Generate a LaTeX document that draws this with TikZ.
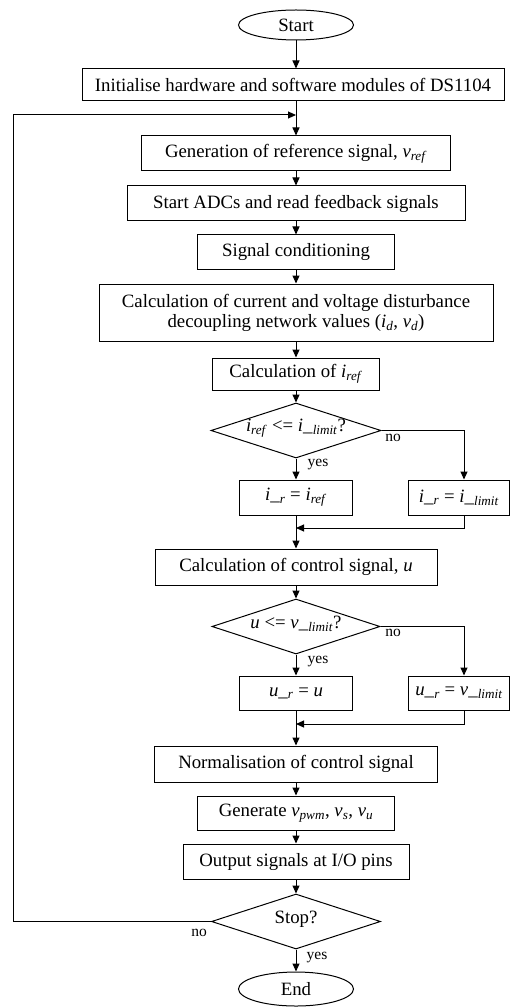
\documentclass[tikz,border=0pt]{standalone}
\usepackage{fontspec}
\setmainfont{Liberation Serif}
\usetikzlibrary{shapes.geometric,arrows.meta}
\newcommand\isb[1]{\textsubscript{\textit{#1}}}
\tikzset{
  every node/.style={font=\fontsize{18.8}{21}\selectfont},
  box/.style={draw, line width=1pt, inner sep=0pt, align=center},
  term/.style={draw, ellipse, line width=1pt, inner sep=0pt, minimum width=115pt},
  dia/.style={draw, diamond, line width=1pt, inner sep=0pt},
  lbl/.style={font=\fontsize{15.5}{17}\selectfont, inner sep=0pt},
  conn/.style={line width=1pt, -{Triangle[length=8pt,width=7pt]}},
  plain/.style={line width=1pt},
}
\begin{document}
\begin{tikzpicture}[x=1pt,y=-1pt]
\useasboundingbox (0,0) rectangle (510,1008);
\node[term, minimum height=30pt] (start) at (296,25) {Start};
\node[box, minimum width=422pt, minimum height=32pt] (init) at (293,85) {Initialise hardware and software modules of DS1104};
\coordinate (join) at (296,115);
\node[box, minimum width=309pt, minimum height=35pt] (gen) at (296,153.5) {Generation of reference signal, \textit{v}\isb{ref}};
\node[box, minimum width=338pt, minimum height=35pt] (adc) at (296,203.5) {Start ADCs and read feedback signals};
\node[box, minimum width=197pt, minimum height=34pt] (sig) at (296,252) {Signal conditioning};
\node[box, minimum width=394pt, minimum height=57pt] (calc) at (296,312.5) {Calculation of current and voltage disturbance\\[-1pt]decoupling network values (\textit{i}\isb{d}, \textit{v}\isb{d})};
\node[box, minimum width=167pt, minimum height=32pt] (iref) at (296,374) {Calculation of \textit{i}\isb{ref}};
\node[dia, minimum width=170pt, minimum height=55pt] (d1) at (296,430.5) {};
\node (d1t) at (296,428) {\textit{i}\isb{ref} <= \textit{i\_}\isb{limit}?};
\node[box, minimum width=113pt, minimum height=35pt] (l1) at (296,497.5) {\textit{i\_}\isb{r} = \textit{i}\isb{ref}};
\node[box, minimum width=101pt, minimum height=35pt] (r1) at (459,497.5) {\textit{i\_}\isb{r} = \textit{i\_}\isb{limit}};
\coordinate (rx) at (464,0);
\coordinate (m1) at (296,528);
\node[box, minimum width=282pt, minimum height=36pt] (ctrl) at (296,567) {Calculation of control signal, \textit{u}};
\node[dia, minimum width=168pt, minimum height=55pt] (d2) at (296,626.5) {};
\node (d2t) at (296,624) {\textit{u} <= \textit{v\_}\isb{limit}?};
\node[box, minimum width=113pt, minimum height=34pt] (l2) at (296,693) {\textit{u\_}\isb{r} = \textit{u}};
\node[box, minimum width=101pt, minimum height=34pt] (r2) at (459,693) {\textit{u\_}\isb{r} = \textit{v\_}\isb{limit}};
\coordinate (m2) at (296,724);
\node[box, minimum width=283pt, minimum height=36pt] (norm) at (296,764) {Normalisation of control signal};
\node[box, minimum width=197pt, minimum height=34pt] (gen2) at (296,813) {Generate \textit{v}\isb{pwm}, \textit{v}\isb{s}, \textit{v}\isb{u}};
\node[box, minimum width=226pt, minimum height=35pt] (out) at (296,861.5) {Output signals at I/O pins};
\node[dia, minimum width=169pt, minimum height=55pt] (stop) at (296,921.5) {};
\node (stopt) at (296,919) {Stop?};
\node[term, minimum height=34pt] (end) at (296,989) {End};
\coordinate (lx) at (13,0);
% labels
\node[lbl] (no1) at (393,438) {no};
\node[lbl] (yes1) at (318,465) {yes};
\node[lbl] (no2) at (393,633) {no};
\node[lbl] (yes2) at (318,662) {yes};
\node[lbl] (no3) at (199,933) {no};
\node[lbl] (yes3) at (317,958) {yes};
% connectors
\draw[conn] (start.south) -- (start.south |- init.north);
\draw[plain] (init.south -| join) -- (join);
\draw[conn] (join) -- (gen.north);
\draw[conn] (gen) -- (adc);
\draw[conn] (adc) -- (sig);
\draw[conn] (sig) -- (calc);
\draw[conn] (calc) -- (iref);
\draw[conn] (iref) -- (d1);
\draw[conn] (d1.south) -- (l1.north);
\draw[conn] (d1.east) -| (rx |- r1.north);
\draw[plain] (l1.south) -- (m1);
\draw[conn] (m1) -- (ctrl.north);
\draw[conn] (rx |- r1.south) |- (m1);
\draw[conn] (ctrl) -- (d2);
\draw[conn] (d2.south) -- (l2.north);
\draw[conn] (d2.east) -| (rx |- r2.north);
\draw[plain] (l2.south) -- (m2);
\draw[conn] (m2) -- (norm.north);
\draw[conn] (rx |- r2.south) |- (m2);
\draw[conn] (norm) -- (gen2);
\draw[conn] (gen2) -- (out);
\draw[conn] (out) -- (stop);
\draw[conn] (stop.south) -- (end.north);
\draw[conn] (stop.west) -- (lx |- stop.west) -- (lx |- join) -- (join);
\end{tikzpicture}
\end{document}
